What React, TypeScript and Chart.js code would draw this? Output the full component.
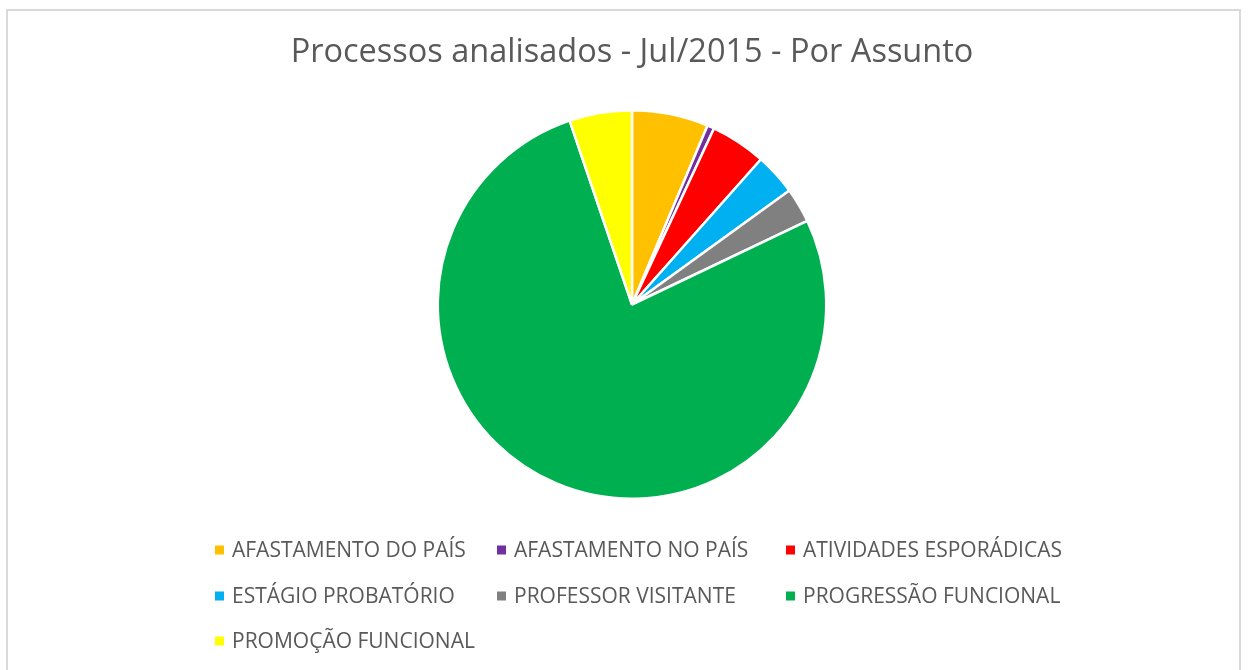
import React, { useEffect, useRef } from "react";
import { Chart, registerables } from "chart.js";

Chart.register(...registerables);

const titleText = "Processos analisados - Jul/2015 - Por Assunto";
const categories = [
  "AFASTAMENTO DO PAÍS",
  "AFASTAMENTO NO PAÍS",
  "ATIVIDADES ESPORÁDICAS",
  "ESTÁGIO PROBATÓRIO",
  "PROFESSOR VISITANTE",
  "PROGRESSÃO FUNCIONAL",
  "PROMOÇÃO FUNCIONAL",
];
const values = [11, 1, 8, 6, 5, 133, 9];
const colors = ["#FFC000", "#7030A0", "#FF0000", "#00B0F0", "#808080", "#00B050", "#FFFF00"];

const FONT = "'Open Sans', sans-serif";
const TEXT_COLOR = "#595959";

const legendPlugin = {
  id: "gridLegend",
  afterDraw(chart: any) {
    const ctx = chart.ctx;
    const cols = [215, 497, 786];
    const rows = [550, 596, 641];
    const labels = chart.data.labels as string[];
    const bg = chart.data.datasets[0].backgroundColor as string[];
    ctx.save();
    ctx.font = `21px ${FONT}`;
    ctx.textBaseline = "middle";
    ctx.textAlign = "left";
    labels.forEach((lab, i) => {
      const x = cols[i % 3];
      const y = rows[Math.floor(i / 3)];
      ctx.fillStyle = bg[i];
      ctx.fillRect(x, y - 4.5, 9, 9);
      ctx.fillStyle = TEXT_COLOR;
      ctx.fillText(lab, x + 17, y + 1);
    });
    ctx.restore();
  },
};

export default function App() {
  const ref = useRef<HTMLCanvasElement | null>(null);
  useEffect(() => {
    if (!ref.current) return;
    const chart = new Chart(ref.current, {
      type: "pie",
      data: {
        labels: categories,
        datasets: [
          {
            data: values,
            backgroundColor: colors,
            borderColor: "#ffffff",
            borderWidth: 2.5,
          },
        ],
      },
      options: {
        responsive: false,
        animation: false,
        layout: { padding: { top: 0, bottom: 170, left: 14, right: 0 } },
        plugins: {
          legend: { display: false },
          tooltip: { enabled: false },
          title: {
            display: true,
            text: titleText,
            color: TEXT_COLOR,
            font: { family: FONT, size: 32.5, weight: "normal" as any, lineHeight: 1.2 },
            padding: { top: 33, bottom: 37 },
          },
        },
      },
      plugins: [legendPlugin],
    });
    return () => chart.destroy();
  }, []);
  return (
    <div style={{ position: "absolute", left: 0, top: 0, width: 1250, height: 670, overflow: "hidden", background: "#fff" }}>
      <div
        style={{
          position: "absolute",
          left: 6,
          top: 9,
          width: 1235,
          height: 700,
          border: "2px solid #d9d9d9",
          boxSizing: "border-box",
        }}
      />
      <canvas ref={ref} width={1250} height={670} style={{ position: "absolute", left: 0, top: 0 }} />
    </div>
  );
}
